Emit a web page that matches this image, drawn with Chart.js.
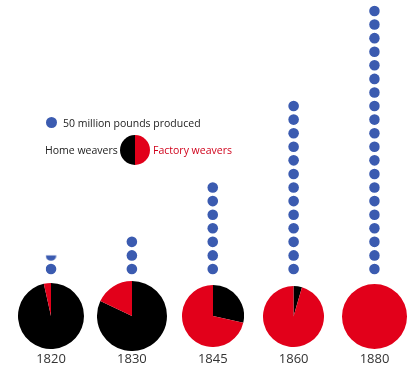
<!DOCTYPE html>
<html>
<head>
<meta charset="utf-8">
<script src="https://cdn.jsdelivr.net/npm/chart.js@4/dist/chart.umd.min.js"></script>
<style>
  html, body { margin: 0; padding: 0; background: #fff; }
  #wrap { position: relative; width: 408px; height: 371px; overflow: hidden; font-family: "Open Sans", sans-serif; }
  #dots { position: absolute; left: 0; top: 0; }
  .pie { position: absolute; }
  .txt { position: absolute; white-space: nowrap; font-size: 10.5px; line-height: 14px; }
  .bullet { position: absolute; width: 11px; height: 11px; border-radius: 50%; background: #3b5bb0; }
</style>
</head>
<body>
<div id="wrap">
  <canvas id="dots" width="408" height="371"></canvas>
  <div class="bullet" style="left:46px;top:117px;"></div>
  <div class="txt" style="left:63px;top:116px;color:#222;">50 million pounds produced</div>
  <div class="txt" style="left:45px;top:143px;color:#222;">Home weavers</div>
  <div class="txt" style="left:153px;top:143px;color:#d0021b;">Factory weavers</div>
  <canvas class="pie" id="legendPie" width="30" height="30" style="left:120px;top:135px;"></canvas>
</div>
<script>
// Cotton cloth output and who wove it
const years = ['1820', '1830', '1845', '1860', '1880'];
const millionPounds = [75, 150, 350, 650, 1000];
const homeShare = [96.5, 82, 28.5, 4.5, 0];
const factoryShare = [3.5, 18, 71.5, 95.5, 100];
const poundsPerDot = 50;

const BLUE = '#3b5bb0';
const RED = '#e2001a';
const BLACK = '#000000';
const DOT_R = 5.3;
const DOT_STEP = 13.58;     // px between stacked dots
const DOT_BASE_Y = 269;     // px centre of the lowest dot
const PIE_RADII = [33, 35, 31, 30.5, 32.5];
const PIE_ROW_Y = 316;

// A dot with only its lower part shown, for a partial 50-million unit
function partialDot(frac) {
  const s = Math.ceil(DOT_R * 2) + 2;
  const c = document.createElement('canvas');
  c.width = s; c.height = s;
  const g = c.getContext('2d');
  const cy = s / 2;
  g.beginPath();
  g.rect(0, cy + DOT_R - frac * 2 * DOT_R, s, s);
  g.clip();
  g.beginPath();
  g.arc(s / 2, cy, DOT_R, 0, Math.PI * 2);
  g.fillStyle = BLUE;
  g.fill();
  return c;
}

// One point per 50 million pounds, stacked upward per year
const dotPoints = [];
const dotStyles = [];
years.forEach((yr, i) => {
  const n = millionPounds[i] / poundsPerDot;
  const full = Math.floor(n);
  const frac = n - full;
  for (let k = 0; k < full; k++) {
    dotPoints.push({ x: yr, y: k });
    dotStyles.push('circle');
  }
  if (frac > 0) {
    dotPoints.push({ x: yr, y: full });
    dotStyles.push(partialDot(frac));
  }
});

const dotChart = new Chart(document.getElementById('dots'), {
  type: 'scatter',
  data: {
    datasets: [{
      data: dotPoints,
      pointStyle: dotStyles,
      pointRadius: DOT_R,
      pointBackgroundColor: BLUE,
      pointBorderWidth: 0,
      pointBorderColor: BLUE
    }]
  },
  options: {
    responsive: false,
    animation: false,
    events: [],
    layout: { padding: { left: 51, right: 33.5, top: 0, bottom: 1 } },
    plugins: { legend: { display: false }, tooltip: { enabled: false } },
    scales: {
      x: {
        type: 'category',
        labels: years,
        offset: false,
        grid: { display: false, drawTicks: false, tickLength: 0 },
        border: { display: false },
        ticks: { color: '#333', padding: 3, font: { family: 'Open Sans', size: 13 } }
      },
      y: { display: false, min: -5, max: 20 }
    }
  }
});

// Fit the vertical range so dots sit on a fixed pitch above the pies
const area = dotChart.chartArea;
const yMax = (DOT_BASE_Y - area.top) / DOT_STEP;
const yMin = yMax - (area.bottom - area.top) / DOT_STEP;
dotChart.options.scales.y.min = yMin;
dotChart.options.scales.y.max = yMax;
dotChart.update();

// Share of home vs factory weavers, one pie under each column
const xScale = dotChart.scales.x;
const wrap = document.getElementById('wrap');
years.forEach((yr, i) => {
  const r = PIE_RADII[i];
  const size = Math.round(r * 2);
  const cv = document.createElement('canvas');
  cv.className = 'pie';
  cv.width = size; cv.height = size;
  cv.style.left = (xScale.getPixelForValue(i) - size / 2) + 'px';
  cv.style.top = (PIE_ROW_Y - size / 2) + 'px';
  wrap.appendChild(cv);
  new Chart(cv, {
    type: 'pie',
    data: {
      labels: ['Home weavers', 'Factory weavers'],
      datasets: [{
        data: [homeShare[i], factoryShare[i]],
        backgroundColor: [BLACK, RED],
        borderWidth: 0
      }]
    },
    options: {
      responsive: false,
      animation: false,
      events: [],
      plugins: { legend: { display: false }, tooltip: { enabled: false } }
    }
  });
});

// Key: half black, half red disc
new Chart(document.getElementById('legendPie'), {
  type: 'pie',
  data: {
    labels: ['Home weavers', 'Factory weavers'],
    datasets: [{ data: [50, 50], backgroundColor: [BLACK, RED], borderWidth: 0 }]
  },
  options: {
    responsive: false,
    animation: false,
    events: [],
    rotation: 180,
    plugins: { legend: { display: false }, tooltip: { enabled: false } }
  }
});
</script>
</body>
</html>
